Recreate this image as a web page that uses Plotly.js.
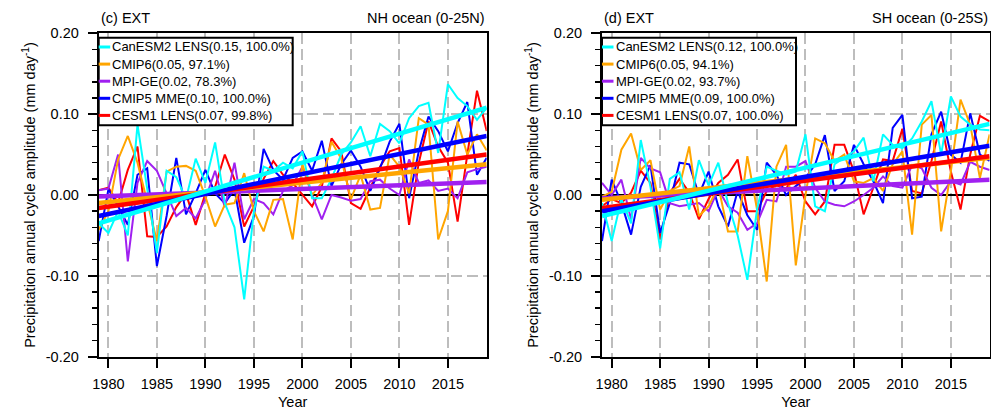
<!DOCTYPE html>
<html><head><meta charset="utf-8">
<script src="https://cdn.plot.ly/plotly-3.0.1.min.js"></script>
<style>html,body{margin:0;padding:0;background:#fff;} #chart{width:991px;height:410px;}</style>
</head><body><div id="chart"></div>
<script>
// ---------------- data ----------------
const years = [1979,1980,1981,1982,1983,1984,1985,1986,1987,1988,1989,1990,1991,1992,1993,1994,1995,1996,1997,1998,1999,
               2000,2001,2002,2003,2004,2005,2006,2007,2008,2009,2010,2011,2012,2013,2014,2015,2016,2017,2018,2019];
const seriesNames = ["CanESM2 LENS","CMIP6","MPI-GE","CMIP5 MME","CESM1 LENS"];
const seriesColors = ["#00ffff","#ffa500","#a020f0","#0000ff","#ff0000"];
const nhLegendLabels = ["CanESM2 LENS(0.15, 100.0%)","CMIP6(0.05, 97.1%)","MPI-GE(0.02, 78.3%)","CMIP5 MME(0.10, 100.0%)","CESM1 LENS(0.07, 99.8%)"];
const shLegendLabels = ["CanESM2 LENS(0.12, 100.0%)","CMIP6(0.05, 94.1%)","MPI-GE(0.02, 93.7%)","CMIP5 MME(0.09, 100.0%)","CESM1 LENS(0.07, 100.0%)"];
const panelTitlesLeft = ["(c) EXT","(d) EXT"];
const panelTitlesRight = ["NH ocean (0-25N)","SH ocean (0-25S)"];

// NH ocean (0-25N)
const nhCanESM2 = [-0.035,-0.047,-0.020,-0.050,0.087,0.010,-0.072,0.030,0.022,-0.005,0.045,0.015,0.065,-0.010,-0.040,-0.129,-0.020,0.035,0.030,0.040,0.033,
                   0.054,-0.004,-0.004,0.020,0.050,0.065,0.085,0.048,0.088,0.079,0.064,0.095,0.110,0.114,0.052,0.137,0.120,0.110,0.093,0.108];
const nhCMIP6   = [-0.043,-0.020,0.044,0.073,0.040,-0.010,-0.057,0.029,0.035,0.036,0.030,-0.002,-0.039,-0.012,-0.010,0.027,-0.020,-0.045,-0.006,-0.005,-0.055,
                   0.038,0.000,0.015,0.066,0.045,-0.005,0.025,-0.018,-0.016,0.050,0.035,0.002,0.095,0.087,-0.055,-0.020,0.091,0.050,0.075,0.055];
const nhMPIGE   = [0.006,0.008,0.050,-0.082,0.015,0.042,0.030,0.003,-0.026,-0.016,-0.029,-0.005,0.030,-0.015,0.040,-0.030,-0.005,-0.010,-0.024,0.005,0.012,
                   0.035,0.000,-0.030,0.000,-0.003,-0.007,-0.005,0.017,0.019,0.008,0.000,0.044,0.015,0.018,0.005,0.008,-0.004,0.028,0.032,0.035];
const nhCMIP5   = [-0.057,0.007,-0.014,-0.037,0.025,0.033,-0.088,-0.026,0.046,-0.024,0.002,0.031,0.002,-0.010,0.007,-0.059,-0.026,0.057,0.031,0.019,0.046,
                   0.054,0.030,0.067,0.011,0.038,0.055,0.035,0.005,0.033,0.066,0.088,-0.004,0.054,0.097,0.079,0.054,0.089,0.115,0.025,0.046];
const nhCESM1   = [0.006,0.009,-0.010,0.031,0.060,-0.051,-0.052,-0.039,-0.015,0.002,-0.037,0.002,0.010,0.050,0.019,-0.039,-0.014,0.020,0.042,0.025,0.015,
                   0.000,-0.014,0.010,0.070,0.054,-0.010,-0.017,0.010,0.035,0.054,0.058,-0.037,0.040,0.091,0.060,0.040,-0.033,0.050,0.129,0.079];
// linear trends (value at first and last year), order as seriesNames
const nhTrendStart = [-0.035,-0.010,-0.002,-0.026,-0.016];
const nhTrendEnd   = [0.108,0.038,0.016,0.073,0.050];

// SH ocean (0-25S)
const shCanESM2 = [-0.010,-0.057,-0.005,-0.035,0.068,0.010,-0.066,0.020,0.028,-0.018,0.043,0.012,0.040,-0.010,-0.050,-0.105,-0.018,0.035,0.030,0.025,0.029,
                   0.075,-0.014,-0.020,0.038,0.046,0.054,0.071,0.017,0.075,0.062,0.058,0.070,0.091,0.116,0.050,0.122,0.097,0.087,0.081,0.080];
const shCMIP6   = [-0.002,0.004,0.056,0.076,0.031,0.043,-0.018,0.005,0.011,0.060,-0.026,-0.014,0.011,-0.045,-0.045,0.048,-0.018,-0.107,0.035,0.062,-0.087,
                   0.000,0.070,0.064,0.042,0.050,0.017,0.015,0.021,0.005,0.038,0.054,-0.049,0.087,0.099,-0.045,0.029,0.118,0.087,0.021,0.075];
const shMPIGE   = [0.015,0.000,0.019,-0.030,0.046,0.033,0.028,-0.010,-0.014,-0.012,-0.010,-0.020,0.007,-0.014,-0.022,-0.043,-0.035,-0.006,-0.008,0.035,0.035,
                   0.042,0.009,-0.008,-0.012,-0.014,-0.008,0.000,0.009,0.023,0.011,0.009,0.037,0.033,0.009,0.000,0.017,0.013,0.041,0.035,0.031];
const shCMIP5   = [-0.057,0.019,-0.010,-0.049,0.010,0.037,-0.047,-0.010,0.040,0.038,0.000,0.029,-0.014,-0.039,0.005,-0.025,-0.043,0.040,0.025,0.000,0.011,
                   0.021,0.038,0.074,0.005,0.017,0.062,0.038,0.017,-0.010,0.083,0.099,-0.004,-0.002,0.075,0.103,0.050,0.040,0.101,0.050,0.042];
const shCESM1   = [-0.014,-0.005,-0.010,0.003,0.030,0.015,-0.055,0.003,0.020,0.003,-0.030,-0.005,0.015,0.025,0.044,-0.020,-0.020,0.005,0.012,0.008,0.025,
                   -0.008,-0.024,-0.008,0.062,0.062,0.029,-0.024,0.009,0.044,0.042,0.082,0.005,0.002,0.042,0.091,0.029,-0.018,0.050,0.098,0.091];
const shTrendStart = [-0.026,-0.006,-0.004,-0.020,-0.016];
const shTrendEnd   = [0.088,0.046,0.019,0.061,0.048];

const yTickVals = [-0.2,-0.1,0,0.1,0.2];
const yTickText = ["-0.20","-0.10","0.00","0.10","0.20"];
const xTickVals = [1980,1985,1990,1995,2000,2005,2010,2015];
const xTickText = ["1980","1985","1990","1995","2000","2005","2010","2015"];
const xTitle = "Year";
const yTitle = "Precipitation annual cycle amplitude (mm day<sup>-1</sup>)";

// ---------------- layout helpers ----------------
const W = 991, H = 410;
const px = v => v / W;
const py = v => 1 - v / H;
const FONT = "Liberation Sans, Arial, Helvetica, sans-serif";
const FS = 14.5;

const panels = [
  {data:[nhCanESM2,nhCMIP6,nhMPIGE,nhCMIP5,nhCESM1], ts:nhTrendStart, te:nhTrendEnd, labels:nhLegendLabels, xa:'x', ya:'y', left:98.7, right:486.7},
  {data:[shCanESM2,shCMIP6,shMPIGE,shCMIP5,shCESM1], ts:shTrendStart, te:shTrendEnd, labels:shLegendLabels, xa:'x2', ya:'y2', left:602, right:989.6}
];
const plotTop = 33.3, plotBottom = 356.7;

const traces = [];
const shapes = [];
const annotations = [];
const dataOrder = [4,3,2,1,0];
const trendOrder = [2,1,4,3,0];

panels.forEach((p, pi) => {
  dataOrder.forEach(k => traces.push({
    x: years, y: p.data[k], type:'scatter', mode:'lines', name: seriesNames[k],
    line:{color: seriesColors[k], width:2}, xaxis:p.xa, yaxis:p.ya, showlegend:false, hoverinfo:'skip'
  }));
  trendOrder.forEach(k => traces.push({
    x: [years[0], years[years.length-1]], y: [p.ts[k], p.te[k]], type:'scatter', mode:'lines',
    name: seriesNames[k] + ' trend', line:{color: seriesColors[k], width:4.5}, xaxis:p.xa, yaxis:p.ya,
    showlegend:false, hoverinfo:'skip'
  }));
  // legend box
  const bx0 = p.left, bx1 = p.left + 194, by0 = 37.7, by1 = 125.3;
  shapes.push({type:'rect', xref:'paper', yref:'paper', x0:px(bx0), x1:px(bx1), y0:py(by1), y1:py(by0),
               line:{color:'black', width:2}, fillcolor:'white', layer:'above'});
  p.labels.forEach((lab, k) => {
    const ry = 47 + k * 17.1;
    shapes.push({type:'line', xref:'paper', yref:'paper', x0:px(p.left), x1:px(p.left + 11.5), y0:py(ry), y1:py(ry),
                 line:{color: seriesColors[k], width:3}, layer:'above'});
    annotations.push({text: lab, xref:'paper', yref:'paper', x:px(p.left + 11.5), y:py(ry), xanchor:'left', yanchor:'middle',
                      showarrow:false, font:{family:FONT, size:13, color:'black'}});
  });
  annotations.push({text: panelTitlesLeft[pi], xref:'paper', yref:'paper', x:px(p.left), y:py(18), xanchor:'left', yanchor:'middle',
                    showarrow:false, font:{family:FONT, size:FS, color:'black'}});
  annotations.push({text: panelTitlesRight[pi], xref:'paper', yref:'paper', x:px(p.right), y:py(18), xanchor:'right', yanchor:'middle',
                    showarrow:false, font:{family:FONT, size:FS, color:'black'}});
});

function xAxis(p, anchor) {
  return {
    domain:[px(p.left), px(p.right)], range:[1979, 2019], anchor: anchor,
    tickmode:'array', tickvals:xTickVals, ticktext:xTickText,
    ticks:'outside', ticklen:9, tickwidth:2, tickcolor:'black', ticklabelstandoff:4,
    showline:true, mirror:true, linewidth:2, linecolor:'black',
    showgrid:true, gridcolor:'#bdbdbd', gridwidth:2, griddash:'11px,5px', zeroline:false,
    tickfont:{family:FONT, size:FS, color:'black'},
    title:{text:xTitle, font:{family:FONT, size:FS, color:'black'}, standoff:10},
    fixedrange:true
  };
}
function yAxis(anchor) {
  return {
    domain:[py(plotBottom), py(plotTop)], range:[-0.2, 0.2], anchor: anchor,
    tickmode:'array', tickvals:yTickVals, ticktext:yTickText,
    ticks:'outside', ticklen:9, tickwidth:2, tickcolor:'black', ticklabelstandoff:6,
    minor:{tick0:0, dtick:0.02, ticks:'outside', ticklen:5, tickwidth:1.5, tickcolor:'black', showgrid:false},
    showline:true, mirror:true, linewidth:2, linecolor:'black',
    showgrid:true, gridcolor:'#bdbdbd', gridwidth:2, griddash:'11px,5px',
    zeroline:true, zerolinecolor:'black', zerolinewidth:1.5,
    tickfont:{family:FONT, size:FS, color:'black'},
    title:{text:yTitle, font:{family:FONT, size:FS, color:'black'}, standoff:7},
    fixedrange:true
  };
}

const layout = {
  width:W, height:H, margin:{l:0, r:0, t:0, b:0, autoexpand:false},
  paper_bgcolor:'white', plot_bgcolor:'white', showlegend:false,
  font:{family:FONT, color:'black'},
  xaxis: xAxis(panels[0], 'y'), yaxis: yAxis('x'),
  xaxis2: xAxis(panels[1], 'y2'), yaxis2: yAxis('x2'),
  shapes: shapes, annotations: annotations
};

Plotly.newPlot('chart', traces, layout, {staticPlot:true, displayModeBar:false});
</script>
</body></html>
